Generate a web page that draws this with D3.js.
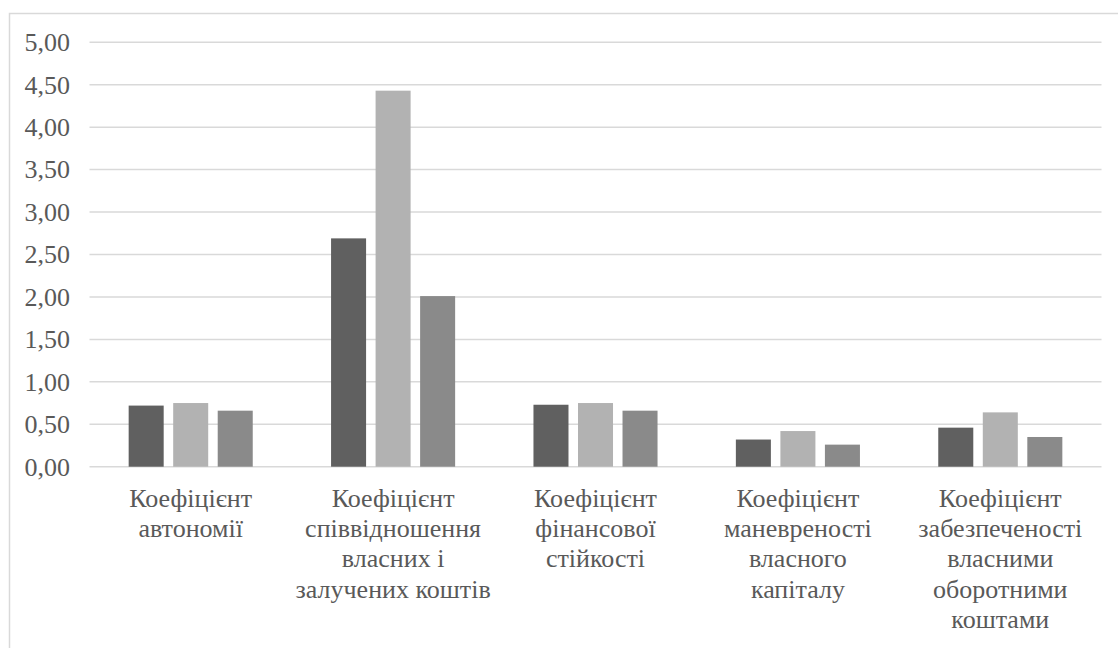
<!DOCTYPE html>
<html>
<head>
<meta charset="utf-8">
<script src="https://cdn.jsdelivr.net/npm/d3@7"></script>
<style>
  html, body { margin: 0; padding: 0; background: #ffffff; }
  svg { display: block; }
</style>
</head>
<body>
<svg id="chart" width="1118" height="648"></svg>
<script>
// Financial stability ratios, three periods per ratio
const categories = [
  ["Коефіцієнт", "автономії"],
  ["Коефіцієнт", "співвідношення", "власних і", "залучених коштів"],
  ["Коефіцієнт", "фінансової", "стійкості"],
  ["Коефіцієнт", "маневреності", "власного", "капіталу"],
  ["Коефіцієнт", "забезпеченості", "власними", "оборотними", "коштами"]
];
const seriesNames = ["period1", "period2", "period3"];
const period1 = [0.72, 2.69, 0.73, 0.32, 0.46];
const period2 = [0.75, 4.43, 0.75, 0.42, 0.64];
const period3 = [0.66, 2.01, 0.66, 0.26, 0.35];
const seriesColors = ["#606060", "#b2b2b2", "#8a8a8a"];
const yTicks = [0, 0.5, 1, 1.5, 2, 2.5, 3, 3.5, 4, 4.5, 5];

const seriesValues = [period1, period2, period3];
const categoryKeys = categories.map(lines => lines.join(" "));
const TEXT_COLOR = "#595959";
const FONT_SIZE = 26;
const SERIF = "Liberation Serif";

const svg = d3.select("#chart");
const plot = { left: 89.5, right: 1101.5, top: 42.3, bottom: 466.7 };

// outer chart-area frame
svg.append("rect")
  .attr("x", 9.5).attr("y", 13.5)
  .attr("width", 1300).attr("height", 800)
  .attr("fill", "none").attr("stroke", "#d9d9d9").attr("stroke-width", 1.5);

const y = d3.scaleLinear().domain([0, 5]).range([plot.bottom, plot.top]);

const x0 = d3.scaleBand()
  .domain(categoryKeys)
  .range([plot.left, plot.right])
  .paddingInner(0.387)
  .paddingOuter(0.1935);

const x1 = d3.scaleBand()
  .domain(seriesNames)
  .range([0, x0.bandwidth()])
  .paddingInner(0.2135)
  .paddingOuter(0);

// horizontal gridlines
svg.append("g")
  .selectAll("line")
  .data(yTicks)
  .join("line")
  .attr("x1", plot.left).attr("x2", plot.right)
  .attr("y1", d => y(d)).attr("y2", d => y(d))
  .attr("stroke", "#d9d9d9").attr("stroke-width", 1.5);

// value labels on the left, decimal comma
const fmt = d => d.toFixed(2).replace(".", ",");
svg.selectAll("text.ytick")
  .data(yTicks)
  .join("text")
  .attr("class", "ytick")
  .attr("x", 70)
  .attr("y", d => y(d))
  .attr("dy", "0.34em")
  .attr("text-anchor", "end")
  .attr("font-size", FONT_SIZE)
  .style("font-family", SERIF)
  .attr("fill", TEXT_COLOR)
  .text(fmt);

// bars
const groups = svg.append("g")
  .selectAll("g")
  .data(categoryKeys)
  .join("g")
  .attr("transform", d => `translate(${x0(d)},0)`);

groups.selectAll("rect")
  .data((d, i) => seriesNames.map((s, j) => ({ s, j, v: seriesValues[j][i] })))
  .join("rect")
  .attr("x", d => x1(d.s))
  .attr("width", x1.bandwidth())
  .attr("y", d => y(d.v))
  .attr("height", d => y(0) - y(d.v))
  .attr("fill", d => seriesColors[d.j]);

// category labels under each group, one text per line
const lineGap = 30.2;
const labelLines = [];
categories.forEach((lines, i) => {
  const cx = x0(categoryKeys[i]) + x0.bandwidth() / 2;
  lines.forEach((ln, k) => labelLines.push({ cx, k, ln }));
});
svg.selectAll("text.cat")
  .data(labelLines)
  .join("text")
  .attr("class", "cat")
  .attr("x", d => d.cx)
  .attr("y", d => 507 + d.k * lineGap)
  .attr("text-anchor", "middle")
  .attr("font-size", FONT_SIZE)
  .style("font-family", SERIF)
  .attr("fill", TEXT_COLOR)
  .text(d => d.ln);
</script>
</body>
</html>
